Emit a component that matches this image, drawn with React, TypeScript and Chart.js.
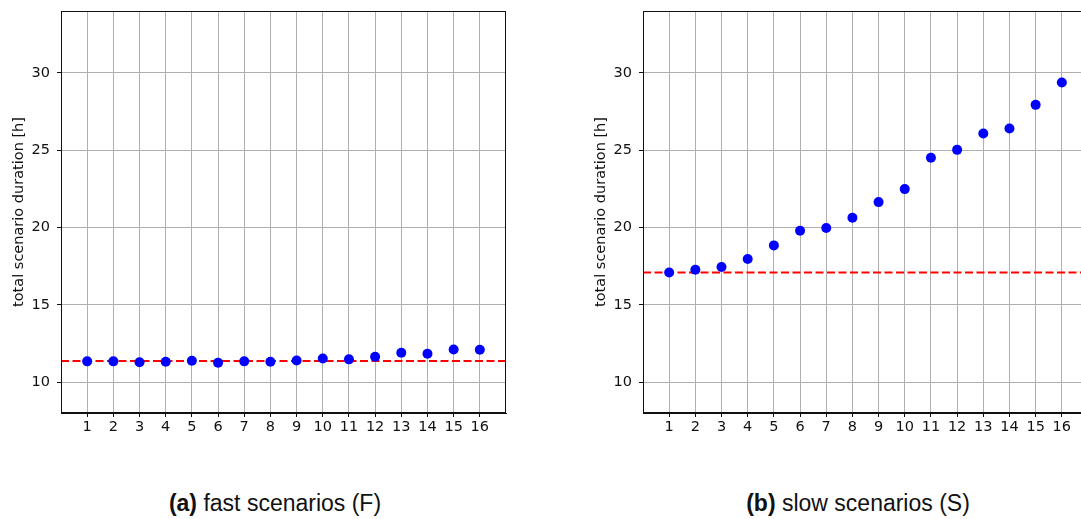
import React, { useEffect, useRef } from "react";
import { Chart, registerables } from "chart.js";

Chart.register(...registerables);

const scenarios = [1, 2, 3, 4, 5, 6, 7, 8, 9, 10, 11, 12, 13, 14, 15, 16];
const fastDurations = [11.34, 11.34, 11.28, 11.32, 11.38, 11.25, 11.34, 11.32, 11.4, 11.53, 11.47, 11.64, 11.9, 11.83, 12.11, 12.09];
const slowDurations = [17.09, 17.26, 17.44, 17.96, 18.84, 19.79, 19.96, 20.63, 21.64, 22.48, 24.51, 25.02, 26.08, 26.4, 27.93, 29.37];
const fastBaseline = 11.36;
const slowBaseline = 17.09;
const yTickValues = [10, 15, 20, 25, 30];
const xRange = [0, 17];
const yRange = [8, 34];
const yAxisTitle = "total scenario duration [h]";

const frame = {
  id: "frame",
  afterDatasetsDraw(chart: any) {
    const { ctx, chartArea } = chart;
    ctx.save();
    ctx.strokeStyle = "#111";
    ctx.lineWidth = 1;
    ctx.strokeRect(
      Math.round(chartArea.left) + 0.5,
      Math.round(chartArea.top) + 0.5,
      Math.round(chartArea.right - chartArea.left) - 1,
      Math.round(chartArea.bottom - chartArea.top) - 1
    );
    ctx.restore();
  },
};

function Panel({ values, baseline }: { values: number[]; baseline: number }) {
  const ref = useRef<HTMLCanvasElement | null>(null);
  useEffect(() => {
    if (!ref.current) return;
    const tickFont = { family: "DejaVu Sans", size: 14.5 };
    const chart = new Chart(ref.current, {
      type: "scatter",
      data: {
        datasets: [
          {
            data: scenarios.map((x, i) => ({ x, y: values[i] })),
            backgroundColor: "#0000ff",
            borderWidth: 0,
            pointRadius: 5,
            showLine: false,
          } as any,
          {
            type: "line",
            data: [
              { x: xRange[0], y: baseline },
              { x: xRange[1], y: baseline },
            ],
            borderColor: "#ff0000",
            borderWidth: 2,
            borderDash: [8, 3.5],
            pointRadius: 0,
            showLine: true,
            fill: false,
          } as any,
        ],
      },
      options: {
        animation: false,
        responsive: false,
        maintainAspectRatio: false,
        layout: { padding: { left: 0, top: 11, right: 14, bottom: 0 } },
        plugins: { legend: { display: false }, tooltip: { enabled: false }, title: { display: false } },
        scales: {
          x: {
            type: "linear",
            min: xRange[0],
            max: xRange[1],
            afterBuildTicks: (s: any) => {
              s.ticks = scenarios.map((v) => ({ value: v }));
            },
            afterFit: (s: any) => {
              s.height = 27;
              s.paddingLeft = 0;
              s.paddingRight = 0;
            },
            grid: { color: "#b0b0b0", lineWidth: 1, tickColor: "#111", tickLength: 4 },
            border: { color: "#111", width: 1 },
            ticks: { font: tickFont, color: "#111", padding: 2, maxRotation: 0, autoSkip: false },
          },
          y: {
            type: "linear",
            min: yRange[0],
            max: yRange[1],
            afterBuildTicks: (s: any) => {
              s.ticks = yTickValues.map((v) => ({ value: v }));
            },
            afterFit: (s: any) => {
              s.width = 61;
              s.paddingTop = 0;
              s.paddingBottom = 0;
            },
            grid: { color: "#b0b0b0", lineWidth: 1, tickColor: "#111", tickLength: 4 },
            border: { color: "#111", width: 1 },
            ticks: { font: tickFont, color: "#111", padding: 7 },
            title: {
              display: true,
              text: yAxisTitle,
              color: "#111",
              font: { family: "DejaVu Sans", size: 14.5 },
              padding: { top: 11, bottom: 0 },
            },
          },
        },
      } as any,
      plugins: [frame],
    });
    return () => chart.destroy();
  }, [values, baseline]);
  return <canvas ref={ref} width={520} height={440} style={{ width: 520, height: 440, display: "block" }} />;
}

const captionStyle: React.CSSProperties = {
  position: "absolute",
  top: 489,
  width: 400,
  textAlign: "center",
  fontFamily: "'Liberation Sans', Arial, sans-serif",
  fontSize: 23,
  lineHeight: "28px",
  color: "#111",
  whiteSpace: "nowrap",
};

export default function App() {
  return (
    <div
      style={{
        position: "absolute",
        left: 0,
        top: 0,
        width: 1081,
        height: 519,
        overflow: "hidden",
        background: "#fff",
      }}
    >
      <div style={{ position: "absolute", left: 0, top: 0 }}>
        <Panel values={fastDurations} baseline={fastBaseline} />
      </div>
      <div style={{ position: "absolute", left: 582, top: 0 }}>
        <Panel values={slowDurations} baseline={slowBaseline} />
      </div>
      <div style={{ ...captionStyle, left: 275 - 200 }}>
        <b>(a)</b> fast scenarios (F)
      </div>
      <div style={{ ...captionStyle, left: 858 - 200 }}>
        <b>(b)</b> slow scenarios (S)
      </div>
    </div>
  );
}
